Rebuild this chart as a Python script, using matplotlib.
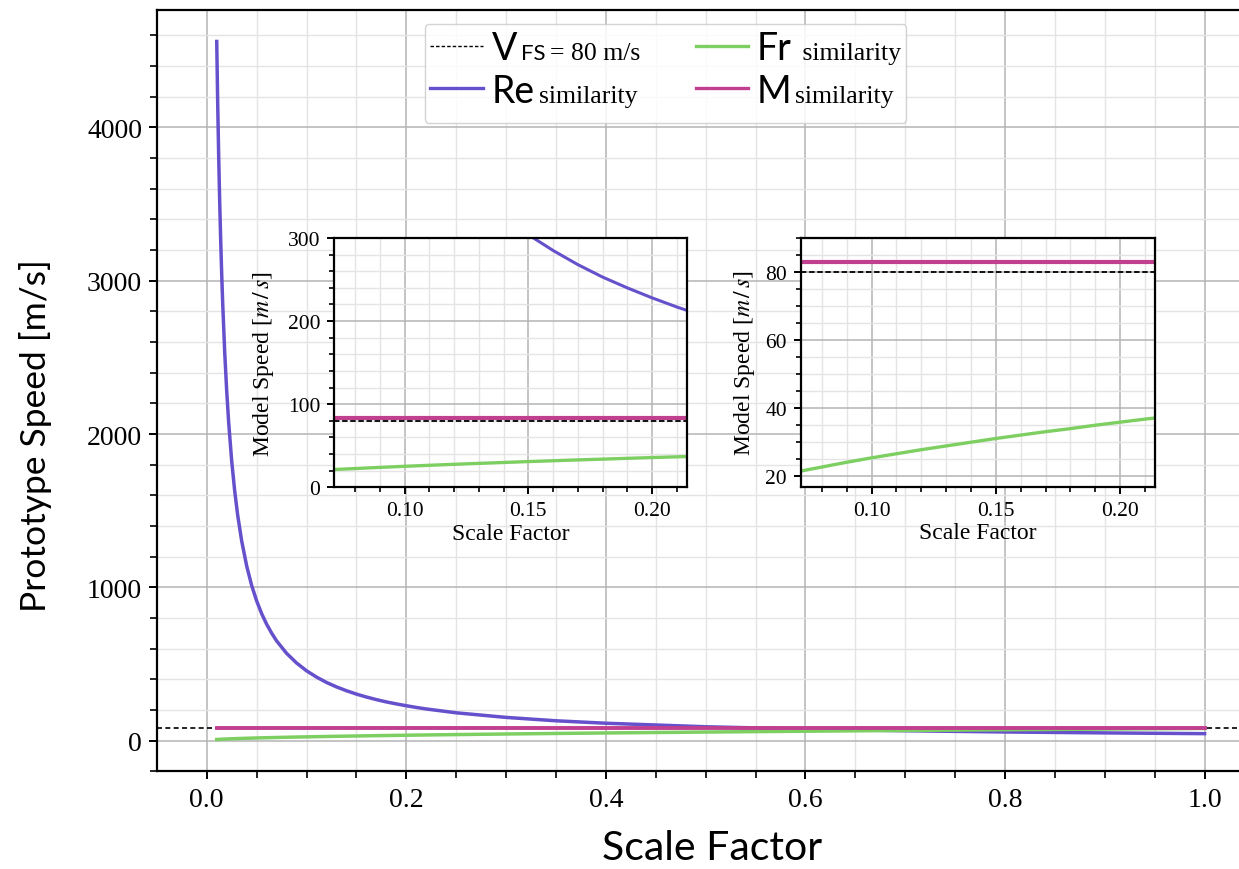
import numpy as np
import matplotlib
matplotlib.use("Agg")
import matplotlib.pyplot as plt
from matplotlib.lines import Line2D
from matplotlib.ticker import MultipleLocator, FormatStrFormatter
from matplotlib.offsetbox import (AnchoredOffsetbox, DrawingArea, HPacker,
                                  TextArea, VPacker)

# scale factor vs. required speed for each similarity law
scale = [0.010, 0.011, 0.012, 0.013, 0.014, 0.015, 0.016, 0.018, 0.020,
         0.022, 0.025, 0.028, 0.031, 0.035, 0.040, 0.045, 0.050, 0.055,
         0.060, 0.065, 0.070, 0.080, 0.090, 0.100, 0.110, 0.120, 0.130,
         0.140, 0.150, 0.160, 0.170, 0.180, 0.190, 0.200, 0.210, 0.220,
         0.250, 0.300, 0.350, 0.400, 0.500, 0.600, 0.700, 0.800, 0.900,
         1.000]
re_speed = [4560, 4145, 3800, 3508, 3257, 3040, 2850, 2533, 2280,
            2073, 1824, 1629, 1471, 1303, 1140, 1013, 912, 829,
            760, 702, 651, 570, 507, 456, 415, 380, 351,
            326, 304, 285, 268, 253, 240, 228, 217, 207,
            182, 152, 130, 114, 91, 76, 65, 57, 51,
            46]
fr_speed = [8.0, 8.4, 8.8, 9.1, 9.5, 9.8, 10.1, 10.7, 11.3,
            11.9, 12.6, 13.4, 14.1, 15.0, 16.0, 17.0, 17.9, 18.8,
            19.6, 20.4, 21.2, 22.6, 24.0, 25.3, 26.5, 27.7, 28.8,
            29.9, 31.0, 32.0, 33.0, 33.9, 34.9, 35.8, 36.7, 37.5,
            40.0, 43.8, 47.3, 50.6, 56.6, 62.0, 66.9, 71.6, 75.9,
            80.0]
mach_speed = [83.0] * len(scale)
v_fs = 80

SANS = "Lato"
SERIF = "Liberation Serif"
plt.rcParams["mathtext.fontset"] = "stix"
plt.rcParams["font.family"] = SERIF

C_RE = "#6650cc"
C_FR = "#7dcf62"
C_M = "#c0408f"


def style_axes(ax, tick_size, major_len, minor_len):
    for s in ax.spines.values():
        s.set_linewidth(1.6)
        s.set_color("black")
    ax.tick_params(which="major", direction="out", length=major_len, width=1.4,
                   labelsize=tick_size, pad=5)
    ax.tick_params(which="minor", direction="out", length=minor_len, width=1.2)
    ax.grid(which="major", color="#b4b4b4", lw=1.1)
    ax.grid(which="minor", color="#e4e4e4", lw=1.0)
    ax.set_axisbelow(True)


fig = plt.figure(figsize=(12.39, 8.70), dpi=100)

# main axes (right part runs past the canvas edge)
ax = fig.add_axes([0.127, 0.1122, 0.8851, 0.8755])
ax.axhline(v_fs, color="black", lw=1.2, ls=(0, (3, 2)))
ax.plot(scale, re_speed, color=C_RE, lw=2.5)
ax.plot(scale, fr_speed, color=C_FR, lw=2.5)
ax.plot(scale, mach_speed, color=C_M, lw=2.8)
ax.set_xlim(-0.0495, 1.0495)
ax.set_ylim(-200, 4767)
ax.xaxis.set_major_locator(MultipleLocator(0.2))
ax.xaxis.set_minor_locator(MultipleLocator(0.05))
ax.yaxis.set_major_locator(MultipleLocator(1000))
ax.yaxis.set_minor_locator(MultipleLocator(200))
style_axes(ax, 20, 6, 5)
ax.set_xlabel("Scale Factor", family=SANS, fontsize=29.5, labelpad=12)
ax.xaxis.set_label_coords(0.5058, -0.075)
ax.set_ylabel("Prototype Speed [m/s]", family=SANS, fontsize=25.5)
ax.yaxis.set_label_coords(-0.096, 0.4417)

# legend built from mixed-font pieces
def legend_row(color, ls, lw, parts):
    da = DrawingArea(38, 20, 0, 0)
    da.add_artist(Line2D([0, 38], [9.5, 9.5], color=color, ls=ls, lw=lw))
    texts = [TextArea(t, textprops=p) for t, p in parts]
    label = HPacker(children=texts, align="baseline", pad=0, sep=3)
    return HPacker(children=[da, label], align="baseline", pad=0, sep=6)


big = dict(family=SANS, fontsize=27)
sub = dict(family=SANS, fontsize=16)
small = dict(family=SERIF, fontsize=18.5)

col1 = VPacker(children=[
    legend_row("black", (0, (2.5, 1.5)), 1.0,
               [("V", big), ("FS", sub), ("= 80 m/s", small)]),
    legend_row(C_RE, "-", 2.4, [("Re", big), ("similarity", small)]),
], align="left", pad=0, sep=5)
col2 = VPacker(children=[
    legend_row(C_FR, "-", 2.4, [("Fr", big), (" similarity", small)]),
    legend_row(C_M, "-", 2.4, [("M", big), ("similarity", small)]),
], align="left", pad=0, sep=5)
columns = HPacker(children=[col1, col2], align="top", pad=0, sep=40)
leg_box = AnchoredOffsetbox(
    loc="upper center",
    child=VPacker(children=[columns, DrawingArea(1, 6)], align="left",
                  pad=0, sep=0),
    pad=0.4, borderpad=0, frameon=True,
    bbox_to_anchor=(0.4634, 0.981), bbox_transform=ax.transAxes)
leg_box.patch.set_boxstyle("round,pad=0,rounding_size=0.3")
leg_box.patch.set_edgecolor("#cccccc")
leg_box.patch.set_facecolor("white")
leg_box.patch.set_alpha(0.85)
leg_box.set_zorder(5)
ax.add_artist(leg_box)


def inset(rect, ylim, ymajor, yminor, ylabel_x):
    a = fig.add_axes(rect)
    a.axhline(v_fs, color="black", lw=1.3, ls=(0, (3, 1.5)), zorder=3)
    a.plot(scale, re_speed, color=C_RE, lw=2.2)
    a.plot(scale, fr_speed, color=C_FR, lw=2.4)
    a.plot(scale, mach_speed, color=C_M, lw=3.0, zorder=2)
    a.set_xlim(0.0716, 0.214)
    a.set_ylim(*ylim)
    a.xaxis.set_major_locator(MultipleLocator(0.05))
    a.xaxis.set_minor_locator(MultipleLocator(0.01))
    a.yaxis.set_major_locator(MultipleLocator(ymajor))
    a.yaxis.set_minor_locator(MultipleLocator(yminor))
    a.xaxis.set_major_formatter(FormatStrFormatter("%.2f"))
    style_axes(a, 15.5, 5, 3.5)
    a.set_xlabel("Scale Factor", fontsize=17, labelpad=2)
    a.set_ylabel(r"Model Speed [$m\,/\,s$]", fontsize=17)
    a.yaxis.set_label_coords(ylabel_x, 0.5)
    return a


inset([0.2698, 0.4387, 0.2844, 0.2866], (0, 300), 100, 20, -0.165)
inset([0.6465, 0.4394, 0.2857, 0.2859], (16.8, 90), 20, 5, -0.125)

fig.savefig("out.png", dpi=100)
